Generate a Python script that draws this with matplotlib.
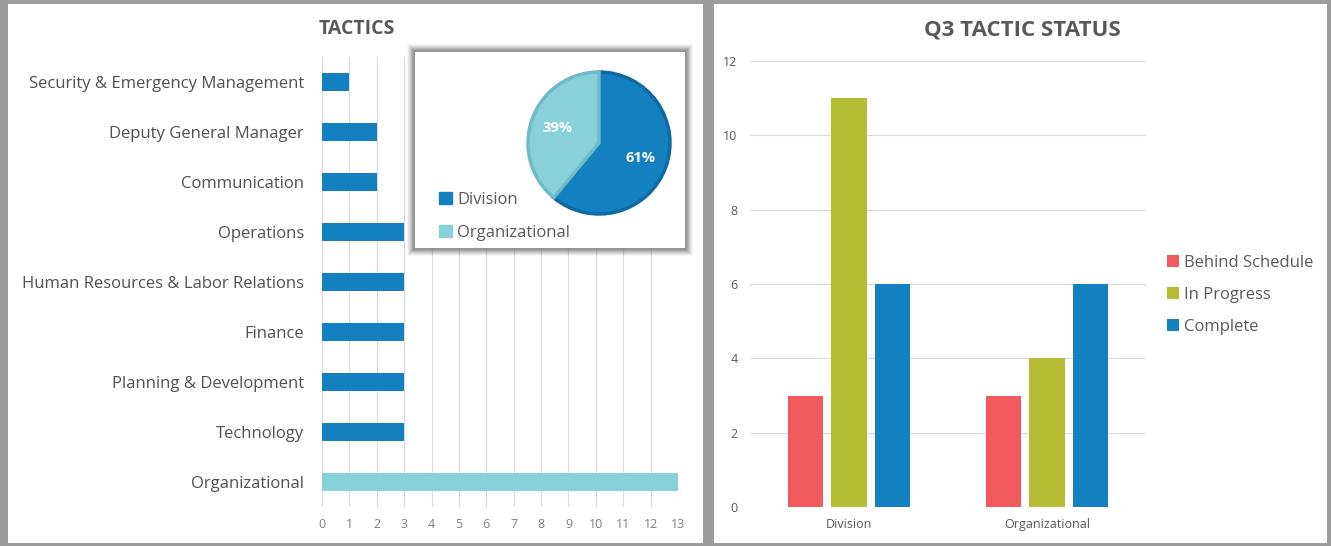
import matplotlib
matplotlib.use('Agg')
import matplotlib.pyplot as plt
from matplotlib.patches import Rectangle, Patch

plt.rcParams['font.family'] = ['Open Sans', 'DejaVu Sans']

# data
tactic_cats = ['Security & Emergency Management', 'Deputy General Manager', 'Communication',
               'Operations', 'Human Resources & Labor Relations', 'Finance',
               'Planning & Development', 'Technology', 'Organizational']
tactic_vals = [1, 2, 2, 3, 3, 3, 3, 3, 13]
tactic_ticks = list(range(0, 14))

pie_labels = ['Division', 'Organizational']
pie_vals = [61, 39]

status_groups = ['Division', 'Organizational']
status_names = ['Behind Schedule', 'In Progress', 'Complete']
behind = [3, 3]
in_progress = [11, 4]
complete = [6, 6]
status_ticks = [0, 2, 4, 6, 8, 10, 12]

dark_blue = '#1380c0'
light_teal = '#88d1d9'
red = '#f05a5c'
green = '#b5bd34'
txt = '#595959'
grid_c = '#d9d9d9'

W, H = 1331, 546
fig = plt.figure(figsize=(W / 100, H / 100), dpi=100, facecolor='#9d9d9d')


def fx(px):
    return px / W


def fy(py):
    return 1 - py / H


# white panels
fig.patches.append(Rectangle((fx(8), fy(543)), fx(703 - 8), (543 - 4) / H,
                             transform=fig.transFigure, facecolor='white', edgecolor='none', zorder=-2))
fig.patches.append(Rectangle((fx(714), fy(543)), fx(1327 - 714), (543 - 4) / H,
                             transform=fig.transFigure, facecolor='white', edgecolor='none', zorder=-2))

# ---- left: tactics bar chart
ax1 = fig.add_axes([fx(322), fy(507), fx(678 - 322), (507 - 57) / H])
ax1.set_zorder(1)
ax1.set_facecolor('none')
ypos = list(range(len(tactic_cats)))
cols = [dark_blue] * (len(tactic_cats) - 1) + [light_teal]
ax1.barh(ypos, tactic_vals, height=0.36, color=cols, zorder=2)
ax1.set_xlim(0, 13)
ax1.set_ylim(len(tactic_cats) - 0.5, -0.5)
ax1.set_xticks(tactic_ticks)
ax1.set_yticks(ypos)
ax1.set_yticklabels(tactic_cats, fontsize=12, color='#505050')
ax1.tick_params(axis='x', length=0, labelsize=9, labelcolor='#7f7f7f', pad=8)
ax1.tick_params(axis='y', length=0, pad=13)
ax1.grid(axis='x', color=grid_c, linewidth=0.8, zorder=0)
for s in ax1.spines.values():
    s.set_visible(False)
fig.text(fx(357), fy(29), 'TACTICS', ha='center', va='center', fontsize=14,
         fontweight='bold', color=txt)

# ---- pie inset with shadow
bx0, by0, bx1, by1 = 415, 52, 685, 248
for i, a in enumerate([0.06, 0.08, 0.10, 0.13, 0.16, 0.2, 0.25]):
    g = 8 - i
    fig.patches.append(Rectangle((fx(bx0 - g), fy(by1 + g)), fx(bx1 - bx0 + 2 * g), (by1 - by0 + 2 * g) / H,
                                 transform=fig.transFigure, facecolor='#606060', alpha=a,
                                 edgecolor='none', zorder=3))
axp = fig.add_axes([fx(bx0), fy(by1), fx(bx1 - bx0), (by1 - by0) / H])
axp.set_zorder(5)
axp.set_facecolor('white')
wedges, texts, autotexts = axp.pie(pie_vals, colors=[dark_blue, light_teal], startangle=90,
                                   counterclock=False, center=(184, 105), radius=71,
                                   autopct='%d%%', pctdistance=0.62, frame=True,
                                   textprops=dict(color='white', fontsize=10.5, fontweight='bold'))
wedges[0].set_edgecolor('#0e6aa3')
wedges[1].set_edgecolor('#6fbcc6')
for w in wedges:
    w.set_linewidth(2.5)
axp.set_xlim(0, bx1 - bx0)
axp.set_ylim(0, by1 - by0)
axp.set_aspect('auto')
axp.set_xticks([])
axp.set_yticks([])
for s in axp.spines.values():
    s.set_visible(False)
axp.legend([Patch(color=dark_blue), Patch(color=light_teal)], pie_labels,
           loc='lower left', bbox_to_anchor=(0.035, -0.04), frameon=False, fontsize=12,
           handlelength=0.75, handleheight=0.75, handletextpad=0.3, labelspacing=1.0,
           labelcolor=txt)

# ---- right: status grouped bars
ax2 = fig.add_axes([fx(750), fy(507), fx(1146 - 750), (507 - 61) / H])
ax2.set_zorder(1)
xs = list(range(len(status_groups)))
bw = 0.177
off = 0.222
ax2.bar([x - off for x in xs], behind, width=bw, color=red, label=status_names[0], zorder=2)
ax2.bar(xs, in_progress, width=bw, color=green, label=status_names[1], zorder=2)
ax2.bar([x + off for x in xs], complete, width=bw, color=dark_blue, label=status_names[2], zorder=2)
ax2.set_xlim(-0.5, 1.5)
ax2.set_ylim(0, 12)
ax2.set_yticks(status_ticks)
ax2.set_xticks(xs)
ax2.set_xticklabels(status_groups)
ax2.tick_params(axis='both', length=0, labelsize=9, labelcolor=txt)
ax2.tick_params(axis='y', pad=9)
ax2.tick_params(axis='x', pad=8)
ax2.grid(axis='y', color=grid_c, linewidth=0.8, zorder=0)
for s in ax2.spines.values():
    s.set_visible(False)
ax2.legend(loc='center left', bbox_to_anchor=(1.015, 0.476), frameon=False, fontsize=12,
           handlelength=0.75, handleheight=0.75, handletextpad=0.3, labelspacing=0.95,
           labelcolor=txt)
fig.text(fx(1022), fy(30), 'Q3 TACTIC STATUS', ha='center', va='center', fontsize=16,
         fontweight='bold', color=txt)

fig.savefig('out.png', dpi=100, facecolor=fig.get_facecolor())
